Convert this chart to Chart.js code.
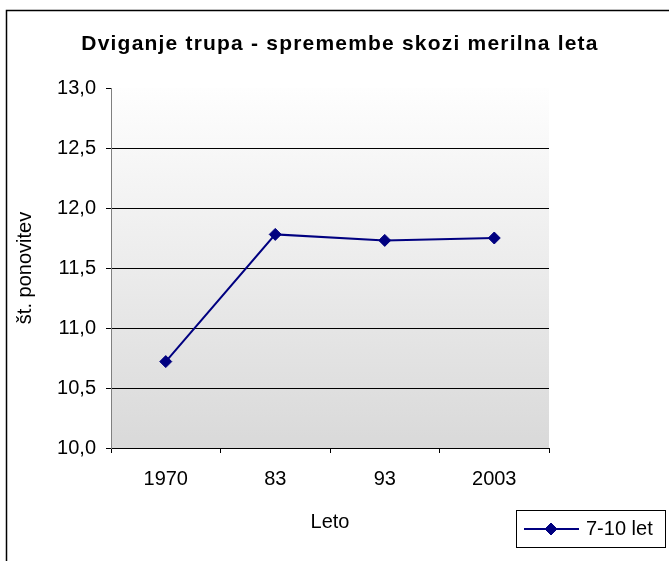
<!DOCTYPE html>
<html>
<head>
<meta charset="utf-8">
<title>Dviganje trupa</title>
<script src="https://cdn.jsdelivr.net/npm/chart.js@4/dist/chart.umd.min.js"></script>
<style>
    html, body { margin: 0; padding: 0; background: #fff; }
</style>
</head>
<body>
<canvas id="dviganjeChart" width="669" height="561"></canvas>
<script>
// podatki
var leta = ["1970", "83", "93", "2003"];
var ponovitve = [10.72, 11.78, 11.73, 11.75];
var oznakaSerije = "7-10 let";
var naslov = "Dviganje trupa - spremembe skozi merilna leta";
var naslovX = "Leto";
var naslovY = "št. ponovitev";
var yMin = 10;
var yMax = 13;
var yKorak = 0.5;

var pisava = "'Liberation Sans', Arial, sans-serif";
var barvaSerije = "#000080";

// okvir okoli grafa in sivi preliv za podlago
var ozadje = {
    id: "ozadje",
    beforeDraw: function (chart) {
        var ctx = chart.ctx;
        var a = chart.chartArea;
        ctx.save();
        ctx.strokeStyle = "#000";
        ctx.lineWidth = 1.5;
        ctx.strokeRect(6.5, 10.5, 720, 620);
        var preliv = ctx.createLinearGradient(0, a.top, 0, a.bottom);
        preliv.addColorStop(0, "#fefefe");
        preliv.addColorStop(1, "#d9d9d9");
        ctx.fillStyle = preliv;
        ctx.fillRect(a.left, a.top, a.right - a.left, a.bottom - a.top);
        ctx.restore();
    }
};

// naslov z razmaknjenimi črkami in legenda v okvirju spodaj desno
var naslovInLegenda = {
    id: "naslovInLegenda",
    afterDraw: function (chart) {
        var ctx = chart.ctx;
        var ds = chart.data.datasets[0];
        ctx.save();
        ctx.fillStyle = "#000";
        ctx.font = "bold 21px " + pisava;
        ctx.letterSpacing = "1.2px";
        ctx.textAlign = "center";
        ctx.textBaseline = "alphabetic";
        ctx.fillText(naslov, 340, 50);
        ctx.letterSpacing = "0px";

        ctx.strokeStyle = "#000";
        ctx.lineWidth = 1;
        ctx.strokeRect(516.5, 510.5, 149, 37);

        ctx.strokeStyle = ds.borderColor;
        ctx.lineWidth = ds.borderWidth;
        ctx.beginPath();
        ctx.moveTo(524, 529);
        ctx.lineTo(579, 529);
        ctx.stroke();
        ctx.fillStyle = ds.pointBackgroundColor;
        ctx.strokeStyle = ds.pointBorderColor;
        ctx.lineWidth = 1;
        Chart.helpers.drawPoint(ctx, { pointStyle: ds.pointStyle, radius: ds.pointRadius, borderWidth: 1 }, 551, 529);

        ctx.fillStyle = "#000";
        ctx.font = "20px " + pisava;
        ctx.textAlign = "left";
        ctx.textBaseline = "middle";
        ctx.fillText(ds.label, 586, 529);
        ctx.restore();
    }
};

document.addEventListener("DOMContentLoaded", function () {
    var ctx = document.getElementById("dviganjeChart").getContext("2d");

    new Chart(ctx, {
        type: "line",
        data: {
            labels: leta,
            datasets: [{
                label: oznakaSerije,
                data: ponovitve,
                borderColor: barvaSerije,
                borderWidth: 2,
                pointStyle: "rectRot",
                pointRadius: 6,
                pointBackgroundColor: barvaSerije,
                pointBorderColor: barvaSerije,
                pointBorderWidth: 1,
                tension: 0,
                fill: false
            }]
        },
        options: {
            responsive: false,
            animation: false,
            layout: {
                padding: { top: 88, right: 120, bottom: 0, left: 0 }
            },
            plugins: {
                legend: { display: false },
                tooltip: { enabled: false },
                title: { display: false }
            },
            scales: {
                x: {
                    offset: true,
                    afterFit: function (scale) { scale.height = 113; },
                    grid: {
                        offset: true,
                        drawOnChartArea: false,
                        drawTicks: true,
                        tickLength: 5,
                        tickColor: "#000"
                    },
                    border: { color: "#000", width: 1 },
                    ticks: {
                        color: "#000",
                        padding: 14,
                        maxRotation: 0,
                        font: { family: pisava, size: 20 }
                    },
                    title: {
                        display: true,
                        text: naslovX,
                        color: "#000",
                        font: { family: pisava, size: 20 },
                        padding: { top: 0, bottom: 27 }
                    }
                },
                y: {
                    min: yMin,
                    max: yMax,
                    afterFit: function (scale) { scale.width = 111; },
                    grid: {
                        color: function (c) {
                            return c.tick && c.tick.value === yMax ? "rgba(0,0,0,0)" : "#000";
                        },
                        tickColor: "#000",
                        tickLength: 5,
                        lineWidth: 1
                    },
                    border: { color: "#808080", width: 1 },
                    ticks: {
                        stepSize: yKorak,
                        color: "#000",
                        padding: 10,
                        font: { family: pisava, size: 20 },
                        callback: function (v) { return v.toFixed(1).replace(".", ","); }
                    },
                    title: {
                        display: true,
                        text: naslovY,
                        color: "#000",
                        font: { family: pisava, size: 20 },
                        padding: { top: 13, bottom: 0 }
                    }
                }
            }
        },
        plugins: [ozadje, naslovInLegenda]
    });
});
</script>
</body>
</html>
